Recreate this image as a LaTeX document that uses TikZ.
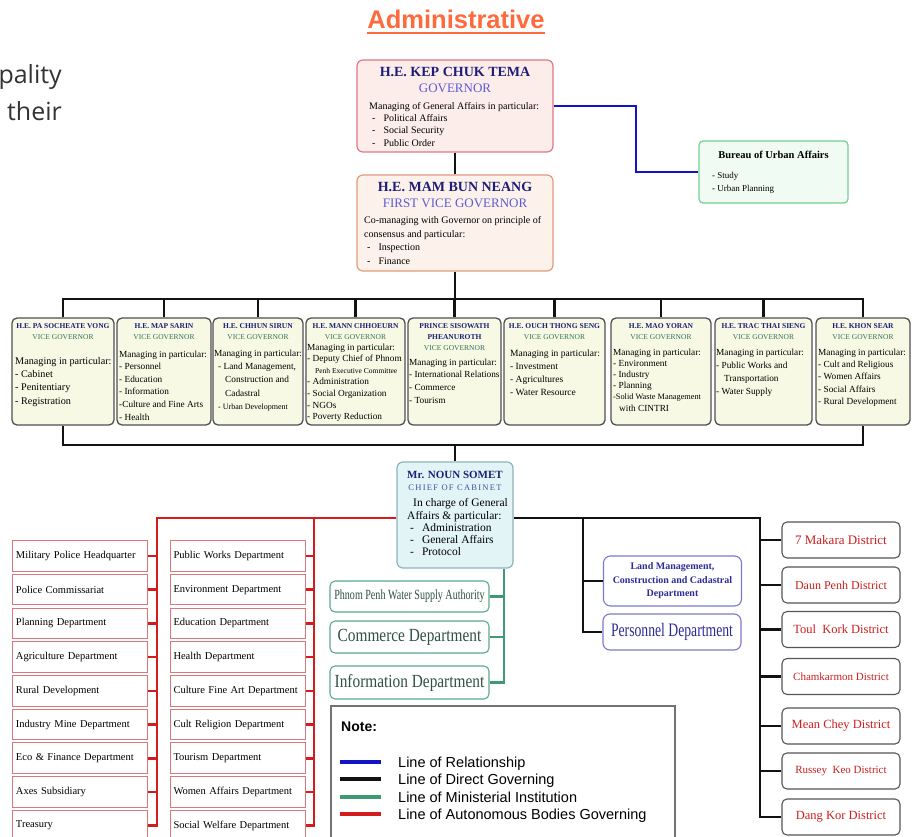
\documentclass[tikz,border=0pt]{standalone}
\usepackage{fontspec}
\usepackage{tikz}
\setmainfont{Liberation Serif}
\newfontfamily\notefont{Liberation Sans}
\newfontfamily\slidefont{Open Sans}
\newfontfamily\narrowa[FakeStretch=0.72]{Liberation Serif}
\newfontfamily\narrowb[FakeStretch=0.83]{Liberation Serif}
\newfontfamily\spacedfont[LetterSpace=15]{Liberation Serif}

\definecolor{navy}{HTML}{1E1E78}
\definecolor{govsub}{HTML}{5C5CD4}
\definecolor{govfill}{HTML}{FCEDEA}
\definecolor{govdraw}{HTML}{DE7884}
\definecolor{fvgfill}{HTML}{FDF1EB}
\definecolor{fvgdraw}{HTML}{E49A78}
\definecolor{burfill}{HTML}{F0FCF3}
\definecolor{burdraw}{HTML}{74CF90}
\definecolor{vgfill}{HTML}{F7F9E5}
\definecolor{vgdraw}{HTML}{505050}
\definecolor{vgsub}{HTML}{2F7355}
\definecolor{cocfill}{HTML}{E3F4F7}
\definecolor{cocdraw}{HTML}{8DB3BA}
\definecolor{cocblue}{HTML}{3A4FA0}
\definecolor{abdraw}{HTML}{D9777A}
\definecolor{midraw}{HTML}{5BAA88}
\definecolor{mitext}{HTML}{2E5045}
\definecolor{lmdraw}{HTML}{7A7AC8}
\definecolor{lmtext}{HTML}{2B2B99}
\definecolor{dsdraw}{HTML}{555555}
\definecolor{dstext}{HTML}{CC1F1F}
\definecolor{admorange}{HTML}{FF6A3D}
\definecolor{slidegrey}{HTML}{333333}
\definecolor{relblue}{HTML}{1212C8}
\definecolor{autored}{HTML}{D41C1C}
\definecolor{mingreen}{HTML}{3E9A72}

\newcommand{\dashitem}{\hspace*{3pt}-\hspace{8pt}}

\tikzset{
% lines
dirline/.style={draw=black!93, line width=2.8pt},
relline/.style={draw=relblue, line width=2.8pt},
minline/.style={draw=mingreen, line width=2.4pt},
autoline/.style={draw=autored, line width=2.6pt},
% boxes
govbox/.style={draw=govdraw, fill=govfill, rounded corners=6pt, line width=1.2pt, minimum width=196pt, minimum height=92pt, inner sep=0pt},
fvgbox/.style={govbox, draw=fvgdraw, fill=fvgfill, minimum height=96pt},
burbox/.style={draw=burdraw, fill=burfill, rounded corners=4pt, line width=1.2pt, minimum width=149pt, minimum height=62pt, inner sep=0pt},
cocbox/.style={draw=cocdraw, fill=cocfill, rounded corners=6pt, line width=1.2pt, minimum width=116pt, minimum height=106pt, inner sep=0pt},
vgbox/.style={draw=vgdraw, fill=vgfill, rounded corners=5pt, line width=1.3pt, minimum height=107pt, inner sep=0pt},
abbox/.style={draw=abdraw, fill=white, line width=1pt, minimum height=30.5pt, text width=128pt, inner xsep=3.5pt, align=left, font=\fontsize{10.5}{12}\selectfont},
mibox/.style={draw=midraw, fill=white, rounded corners=5pt, line width=1.1pt, minimum width=159pt, text=mitext, inner sep=0pt},
lmbox/.style={draw=lmdraw, fill=white, rounded corners=7pt, line width=1.1pt, minimum width=138pt, text=lmtext, inner sep=0pt},
dsbox/.style={draw=dsdraw, fill=white, rounded corners=5pt, line width=1.1pt, minimum width=118pt, minimum height=36pt, text=dstext, inner sep=0pt},
% texts
boxtitle/.style={anchor=north, align=center, inner sep=0pt, text=navy, font=\bfseries\fontsize{14}{16}\selectfont},
boxbody/.style={anchor=north west, align=left, inner sep=0pt, font=\fontsize{10}{12.3}\selectfont},
vgtitle/.style={anchor=north, align=center, inner sep=0pt, text=navy, font=\bfseries\fontsize{7.5}{11}\selectfont},
vgbody/.style={anchor=north west, align=left, inner sep=0pt},
slidetext/.style={anchor=base east, inner sep=0pt, text=slidegrey, font=\slidefont\fontsize{25}{30}\selectfont},
legtext/.style={anchor=base west, inner sep=0pt, font=\notefont\fontsize{14.5}{17}\selectfont}
}

\begin{document}
\begin{tikzpicture}[x=1pt, y=-1pt]
\useasboundingbox (0,0) rectangle (919,837);
\clip (0,0) rectangle (919,837);

% cut slide text and heading
\node[slidetext] (sl1) at (62,84) {pality};
\node[slidetext] (sl2) at (62,121) {their};
\node[anchor=base, inner sep=0pt, text=admorange, font=\notefont\bfseries\fontsize{25.5}{30}\selectfont] (adm) at (456,29) {Administrative};
\draw[admorange, line width=2.2pt] ([yshift=-4pt]adm.base west) -- ([yshift=-4pt]adm.base east);

% governor
\node[govbox] (gov) at (455,106) {};
\node[boxtitle] (govt) at (455,67) {H.E. KEP CHUK TEMA\\{\mdseries\color{govsub}\fontsize{13}{16}\selectfont GOVERNOR}};
\node[boxbody] (govb) at (369,102) {Managing of General Affairs in particular:\\\dashitem Political Affairs\\\dashitem Social Security\\\dashitem Public Order};

% first vice governor
\node[fvgbox] (fvg) at (455,223) {};
\node[boxtitle] (fvgt) at (455,182) {H.E. MAM BUN NEANG\\{\mdseries\color{govsub}\fontsize{13}{16}\selectfont FIRST VICE GOVERNOR}};
\node[boxbody, font=\fontsize{10}{13.8}\selectfont] (fvgb) at (364,216) {Co-managing with Governor on principle of\\consensus and particular:\\\dashitem Inspection\\\dashitem Finance};

% bureau
\node[burbox] (bur) at (773.5,172) {};
\node[anchor=north, inner sep=0pt, font=\bfseries\fontsize{10.5}{12}\selectfont] (burt) at (773.5,150.5) {Bureau of Urban Affairs};
\node[boxbody, font=\fontsize{9}{13}\selectfont] (burb) at (712,172.5) {- Study\\- Urban Planning};

% vice governors
\foreach \i/\xa/\xb/\bx/\by/\vgfs/\vgbs/\vgname/\vgbody in {
 1/12/114/15/357.1/10.2/13.3/{H.E. PA SOCHEATE VONG}/{Managing in particular:\\- Cabinet\\- Penitentiary\\- Registration},
 2/117/211/119/350.5/9.3/12.6/{H.E. MAP SARIN}/{Managing in particular:\\- Personnel\\- Education\\- Information\\-Culture and Fine Arts\\- Health},
 3/213/303/214/349.5/9.3/13.4/{H.E. CHHUN SIRUN}/{Managing in particular:\\\hspace*{4pt}- Land Management,\\\hspace*{11pt}Construction and\\\hspace*{11pt}Cadastral\\\hspace*{4pt}{\fontsize{8}{12}\selectfont - Urban Development}},
 4/306/405/307/343.5/9.3/11.6/{H.E. MANN CHHOEURN}/{Managing in particular:\\- Deputy Chief of Phnom\\\hspace*{8pt}{\fontsize{7.5}{10}\selectfont Penh Executive Committee}\\- Administration\\- Social Organization\\- NGOs\\- Poverty Reduction},
 5/408/501/409/358.5/9.3/12.7/{PRINCE SISOWATH\\PHEANUROTH}/{Managing in particular:\\- International Relations\\- Commerce\\- Tourism},
 6/504/605/510/349.4/9.5/13/{H.E. OUCH THONG SENG}/{Managing in particular:\\- Investment\\- Agricultures\\- Water Resource},
 7/611/711/613/348.5/9.3/11.2/{H.E. MAO YORAN}/{Managing in particular:\\- Environment\\- Industry\\- Planning\\{\fontsize{8.3}{11}\selectfont -Solid Waste Management}\\\hspace*{6pt}with CINTRI},
 8/715/812/716/348.5/9.3/13/{H.E. TRAC THAI SIENG}/{Managing in particular:\\- Public Works and\\\hspace*{8pt}Transportation\\- Water Supply},
 9/816/910/818/348.5/9.3/12.4/{H.E. KHON SEAR}/{Managing in particular:\\- Cult and Religious\\- Women Affairs\\- Social Affairs\\- Rural Development}}
{
 \node[vgbox, minimum width=\xb-\xa] (vg\i) at ({(\xa+\xb)/2},371.5) {};
 \node[vgtitle] (vgt\i) at ({(\xa+\xb)/2},323.5) {\vgname\\{\mdseries\color{vgsub}VICE GOVERNOR}};
 \node[vgbody, font=\fontsize{\vgfs}{\vgbs}\selectfont] (vgb\i) at (\bx,\by) {\vgbody};
}

% chief of cabinet
\node[cocbox] (coc) at (455,515) {};
\node[boxtitle, font=\bfseries\fontsize{11}{11.5}\selectfont] (coct) at (455,471.3) {Mr. NOUN SOMET\\{\mdseries\spacedfont\color{cocblue}\fontsize{8.5}{11.5}\selectfont CHIEF OF CABINET}};
\node[boxbody, font=\fontsize{11.5}{12.3}\selectfont] (cocb) at (407,498.5) {\hspace*{6pt}In charge of General\\Affairs \& particular:\\\dashitem Administration\\\dashitem General Affairs\\\dashitem Protocol};

% direct governing
\coordinate (topbus) at (0,299);
\coordinate (botbus) at (0,445);
\draw[dirline] (gov.south) -- (fvg.north);
\draw[dirline] (fvg.south) -- (fvg.south |- topbus);
\draw[dirline] (vg1.north) -- (vg1.north |- topbus) -- (vg9.north |- topbus) -- (vg9.north);
\foreach \i in {2,...,8}
     \draw[dirline] (vg\i.north) -- (vg\i.north |- topbus);
\draw[dirline] (vg1.south) -- (vg1.south |- botbus) -- (vg9.south |- botbus) -- (vg9.south);
\draw[dirline] (coc.north |- botbus) -- (coc.north);

% relationship
\coordinate (bb) at (636,0);
\draw[relline] (gov.east) -| (bb |- bur.west) -- (bur.west);

% autonomous bodies
\coordinate (aj) at (157,518);
\coordinate (pj) at (314,518);
\foreach \i/\t in {1/Military Police Headquarter, 2/Police Commissariat, 3/Planning Department, 4/Agriculture Department, 5/Rural Development, 6/Industry Mine Department, 7/Eco \& Finance Department, 8/Axes Subsidiary, 9/Treasury}
     \node[abbox] (ab\i) at (80,{556+33.7*(\i-1)}) {\t};
\foreach \i/\t in {1/Public Works Department, 2/Environment Department, 3/Education Department, 4/Health Department, 5/\mbox{Culture Fine Art Department}, 6/Cult Religion Department, 7/Tourism Department, 8/Women Affairs Department, 9/Social Welfare Department}
     \node[abbox] (dp\i) at (237.5,{556+33.7*(\i-1)}) {\t};
\draw[autoline] (coc.west |- aj) -- (aj) -- (aj |- ab9.east) -- (ab9.east);
\draw[autoline] (pj) -- (pj |- dp9.east) -- (dp9.east);
\foreach \i in {1,...,8}{
     \draw[autoline] (ab\i.east) -- (ab\i.east -| aj);
     \draw[autoline] (dp\i.east) -- (dp\i.east -| pj);
}

% ministerial institutions
\node[mibox, minimum height=31pt, font=\narrowa\fontsize{14}{16}\selectfont] (mi1) at (409.5,596.5) {Phnom Penh Water Supply Authority};
\node[mibox, minimum height=32pt, font=\narrowb\fontsize{18.5}{20}\selectfont] (mi2) at (409.5,637) {Commerce Department};
\node[mibox, minimum height=33pt, font=\narrowb\fontsize{18.5}{20}\selectfont] (mi3) at (409.5,682.5) {Information Department};
\coordinate (mj) at (504,0);
\draw[minline] (coc.south -| mj) -- (mj |- mi3.east) -- (mi3.east);
\foreach \i in {1,2}
     \draw[minline] (mi\i.east) -- (mi\i.east -| mj);

% departments and districts
\node[lmbox, minimum height=50pt, align=center, font=\bfseries\fontsize{10}{13.5}\selectfont] (lmc) at (672.5,581) {Land Management,\\Construction and Cadastral\\Department};
\node[lmbox, minimum height=36pt, font=\narrowa\fontsize{19}{20}\selectfont] (per) at (672,632) {Personnel Department};
\foreach \i/\y/\dfs/\t in {1/540/13/7 Makara District, 2/585/12/Daun Penh District, 3/629.5/12.5/Toul\ \ Kork District, 4/676.5/11/Chamkarmon District, 5/726/12.5/Mean Chey District, 6/771/11/Russey\ \ Keo District, 7/817/12.5/Dang Kor District}
     \node[dsbox, font=\fontsize{\dfs}{14}\selectfont] (ds\i) at (841,\y) {\t};
\coordinate (lj) at (583,518);
\coordinate (dj) at (760,518);
\draw[dirline] (coc.east |- dj) -- (dj) -- (dj |- ds7.west) -- (ds7.west);
\foreach \i in {1,...,6}
     \draw[dirline] (ds\i.west -| dj) -- (ds\i.west);
\draw[dirline] (lj) -- (lj |- per.west) -- (per.west);
\draw[dirline] (lj |- lmc.west) -- (lmc.west);

% note
\draw[draw=black!55, line width=1.2pt] (331,706) rectangle (675,850);
\node[anchor=west, inner sep=0pt, font=\notefont\bfseries\fontsize{14}{16}\selectfont] (nh) at (341,727) {Note:};
\foreach \i/\y/\c/\t in {1/762/relline/Line of Relationship, 2/779/dirline/Line of Direct Governing, 3/797/minline/Line of Ministerial Institution, 4/814/autoline/Line of Autonomous Bodies Governing}{
     \draw[\c, line width=3.4pt] (340,\y) -- (381,\y);
     \node[legtext] (lg\i) at (398,{\y+5.5}) {\t};
}

\end{tikzpicture}
\end{document}
